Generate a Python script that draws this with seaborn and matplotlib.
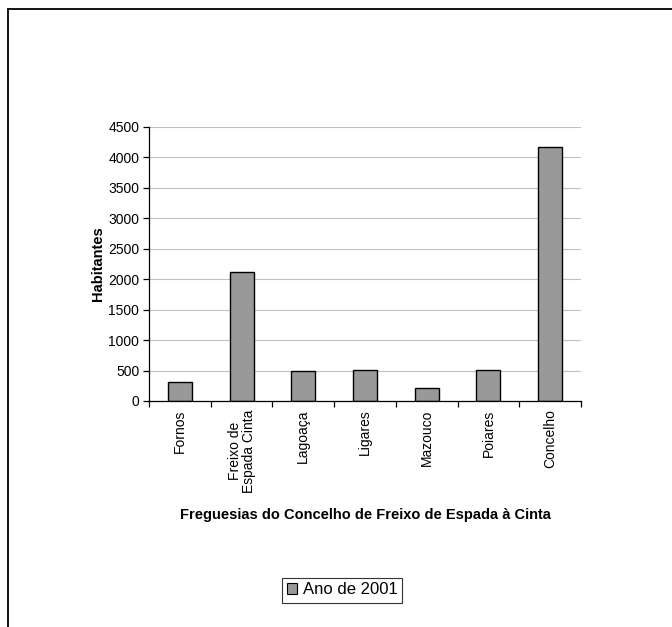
import matplotlib
matplotlib.use("Agg")
import matplotlib.pyplot as plt
import seaborn as sns
import pandas as pd
from matplotlib.lines import Line2D
from matplotlib.patches import Patch

freguesias = ["Fornos", "Freixo de\nEspada Cinta", "Lagoaça", "Ligares",
              "Mazouco", "Poiares", "Concelho"]
habitantes = [317, 2116, 487, 514, 219, 514, 4177]
serie = "Ano de 2001"
y_ticks = [0, 500, 1000, 1500, 2000, 2500, 3000, 3500, 4000, 4500]

sns.set_theme(style="white")
plt.rcParams["font.family"] = ["Liberation Sans", "DejaVu Sans"]
plt.rcParams["text.color"] = "black"
plt.rcParams["axes.labelcolor"] = "black"
plt.rcParams["xtick.color"] = "black"
plt.rcParams["ytick.color"] = "black"

df = pd.DataFrame({"Freguesia": freguesias, "Habitantes": habitantes})

W, H = 672, 627
fig = plt.figure(figsize=(W / 100, H / 100), dpi=100)
ax = fig.add_axes([149 / W, 1 - 401 / H, (581 - 149) / W, (401 - 127) / H])

sns.barplot(data=df, x="Freguesia", y="Habitantes", color="#999999",
            saturation=1, width=0.39, edgecolor="black", linewidth=1.0, ax=ax)

ax.set_xlim(-0.5, len(freguesias) - 0.5)
ax.set_ylim(0, 4500)
ax.set_yticks(y_ticks)
ax.yaxis.grid(True, color="#c0c0c0", linewidth=0.8)
ax.set_axisbelow(True)

for side in ["top", "right"]:
    ax.spines[side].set_visible(False)
for side in ["left", "bottom"]:
    ax.spines[side].set_color("black")
    ax.spines[side].set_linewidth(0.9)

# category labels centred between the boundary ticks
ax.set_xticks(range(len(freguesias)))
ax.set_xticklabels(freguesias, rotation=90, fontsize=10, va="top",
                   ha="center", linespacing=1.0)
ax.tick_params(axis="x", length=0, pad=6)
ax.set_xticks([i - 0.5 for i in range(len(freguesias) + 1)], minor=True)
ax.tick_params(axis="x", which="minor", length=4, width=0.9, color="black",
               direction="out", bottom=True)
ax.tick_params(axis="y", length=4, width=0.9, color="black", direction="out",
               left=True, labelsize=10, pad=3)

ax.set_xlabel("Freguesias do Concelho de Freixo de Espada à Cinta",
              fontsize=10.5, fontweight="bold", labelpad=11)
ax.set_ylabel("Habitantes", fontsize=10.5, fontweight="bold", labelpad=2.5)

handle = Patch(facecolor="#999999", edgecolor="black", linewidth=0.8, label=serie)
leg = fig.legend(handles=[handle], loc="center", bbox_to_anchor=(342 / W, 1 - 590 / H),
                 frameon=True, fancybox=False, fontsize=12, handlelength=0.6,
                 handleheight=0.6, handletextpad=0.35, borderpad=0.3,
                 borderaxespad=0)
leg.get_frame().set_edgecolor("black")
leg.get_frame().set_linewidth(0.8)

# outer frame of the chart area (top and left edges)
fig.add_artist(Line2D([8 / W, 1], [1 - 9 / H, 1 - 9 / H], color="black",
                      linewidth=1.3, transform=fig.transFigure))
fig.add_artist(Line2D([8 / W, 8 / W], [0, 1 - 9 / H], color="black",
                      linewidth=1.3, transform=fig.transFigure))

fig.savefig("out.png", dpi=100, facecolor="white")
